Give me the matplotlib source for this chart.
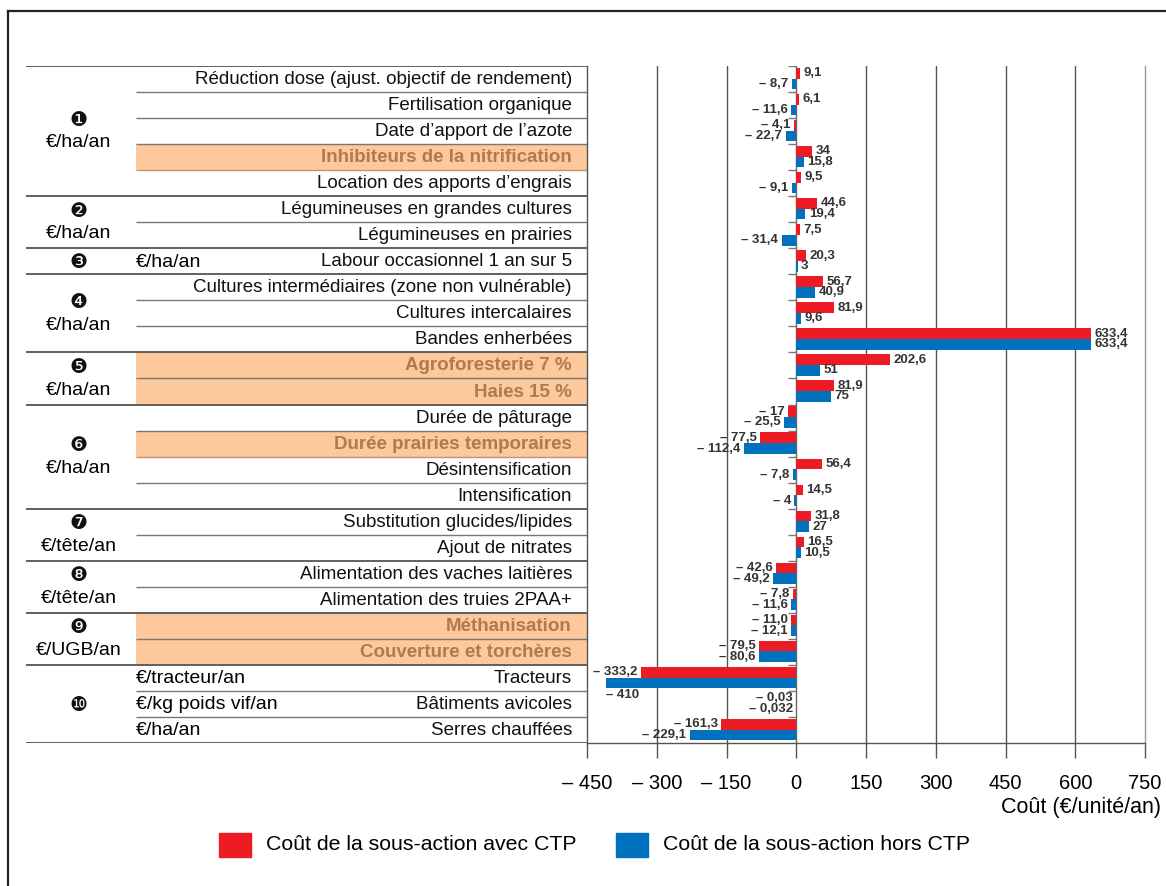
import matplotlib
matplotlib.use('Agg')
import matplotlib.pyplot as plt
import numpy as np
from matplotlib.patches import Rectangle
from matplotlib.lines import Line2D

plt.rcParams['font.family'] = ['Liberation Sans', 'DejaVu Sans']

# data
actions = [
    'Réduction dose (ajust. objectif de rendement)',
    'Fertilisation organique',
    'Date d\u2019apport de l\u2019azote',
    'Inhibiteurs de la nitrification',
    'Location des apports d\u2019engrais',
    'Légumineuses en grandes cultures',
    'Légumineuses en prairies',
    'Labour occasionnel 1 an sur 5',
    'Cultures intermédiaires (zone non vulnérable)',
    'Cultures intercalaires',
    'Bandes enherbées',
    'Agroforesterie 7 %',
    'Haies 15 %',
    'Durée de pâturage',
    'Durée prairies temporaires',
    'Désintensification',
    'Intensification',
    'Substitution glucides/lipides',
    'Ajout de nitrates',
    'Alimentation des vaches laitières',
    'Alimentation des truies 2PAA+',
    'Méthanisation',
    'Couverture et torchères',
    'Tracteurs',
    'Bâtiments avicoles',
    'Serres chauffées',
]
avec_ctp = [9.1, 6.1, -4.1, 34, 9.5, 44.6, 7.5, 20.3, 56.7, 81.9, 633.4, 202.6, 81.9,
            -17, -77.5, 56.4, 14.5, 31.8, 16.5, -42.6, -7.8, -11.0, -79.5, -333.2, -0.03, -161.3]
hors_ctp = [-8.7, -11.6, -22.7, 15.8, -9.1, 19.4, -31.4, 3, 40.9, 9.6, 633.4, 51, 75,
            -25.5, -112.4, -7.8, -4, 27, 10.5, -49.2, -11.6, -12.1, -80.6, -410, -0.032, -229.1]
highlighted = ['Inhibiteurs de la nitrification', 'Agroforesterie 7 %', 'Haies 15 %',
               'Durée prairies temporaires', 'Méthanisation', 'Couverture et torchères']

group_marks = ['\u2776', '\u2777', '\u2778', '\u2779', '\u277a', '\u277b', '\u277c', '\u277d', '\u277e', '\u277f']
group_sizes = [5, 2, 1, 3, 2, 4, 2, 2, 2, 3]
group_units = ['€/ha/an', '€/ha/an', '€/ha/an', '€/ha/an', '€/ha/an', '€/ha/an',
               '€/tête/an', '€/tête/an', '€/UGB/an', None]
tractor_units = ['€/tracteur/an', '€/kg poids vif/an', '€/ha/an']

xticks = [-450, -300, -150, 0, 150, 300, 450, 600, 750]

RED = '#ED1C24'
BLUE = '#0071BC'
HL_FILL = '#FDC89C'
HL_TEXT = '#B07A4F'
LINE = '#555555'

W, H = 1166, 886
fig = plt.figure(figsize=(W / 100, H / 100), dpi=100)

top_px, bot_px = 66, 743
b = 1 - bot_px / H
h = (bot_px - top_px) / H
split = 587
right = 1145
n = len(actions)

# ---- table part
axt = fig.add_axes([0, b, split / W, h])
axt.set_xlim(0, split)
axt.set_ylim(n, 0)
axt.axis('off')

for i, a in enumerate(actions):
    if a in highlighted:
        axt.add_patch(Rectangle((136, i), split - 136, 1, fc=HL_FILL, ec='none'))
        axt.text(572, i + 0.52, a, ha='right', va='center', fontsize=13.5,
                 fontweight='bold', color=HL_TEXT)
    else:
        axt.text(572, i + 0.52, a, ha='right', va='center', fontsize=13.5, color='#111111')

bounds = np.cumsum([0] + group_sizes)
for k in range(1, n):
    if k in bounds:
        continue
    col = '#C8916A' if actions[k - 1] in highlighted and actions[k] not in highlighted else '#777777'
    axt.plot([136, split], [k, k], color=col, lw=1.0, solid_capstyle='butt')
for k in bounds:
    axt.plot([26, split], [k, k], color=LINE, lw=1.3, solid_capstyle='butt')

for g, mark in enumerate(group_marks):
    start, size = bounds[g], group_sizes[g]
    c = start + size / 2
    if size == 1:
        axt.text(79, c + 0.05, mark, ha='center', va='center', fontsize=14.5, color='#111111')
        axt.text(136, c + 0.05, group_units[g], ha='left', va='center', fontsize=14)
    elif group_units[g] is None:
        axt.text(79, c + 0.05, mark, ha='center', va='center', fontsize=14.5, color='#111111')
        for j, u in enumerate(tractor_units):
            axt.text(136, start + j + 0.52, u, ha='left', va='center', fontsize=14)
    else:
        axt.text(79, c - 0.42, mark, ha='center', va='center', fontsize=14.5, color='#111111')
        axt.text(79, c + 0.45, group_units[g], ha='center', va='center', fontsize=14)

# ---- bar part
ax = fig.add_axes([split / W, b, (right - split) / W, h])
ax.set_xlim(-450, 750)
ax.set_ylim(n, 0)
y = np.arange(n)
ax.barh(y + 0.28, avec_ctp, height=0.41, color=RED, zorder=3)
ax.barh(y + 0.69, hors_ctp, height=0.41, color=BLUE, zorder=3)

for v in [-300, -150, 150, 300, 450, 600]:
    ax.axvline(v, color=LINE, lw=1.0, zorder=1)
ax.axvline(0, color='#666666', lw=1.0, zorder=2)
for k in range(0, n):
    ax.plot([-17, 0], [k, k], color='#777777', lw=1.0, zorder=2, solid_capstyle='butt')

ax.spines['top'].set_visible(False)
ax.spines['left'].set_color(LINE)
ax.spines['bottom'].set_color(LINE)
ax.spines['right'].set_color('#999999')
for s in ['left', 'bottom', 'right']:
    ax.spines[s].set_linewidth(1.0)
ax.set_yticks([])
ax.set_xticks(xticks)
ax.set_xticklabels([('\u2013 %d' % -t) if t < 0 else str(t) for t in xticks])
ax.tick_params(axis='x', length=11, width=1, color=LINE, pad=11, labelsize=14.5)

fig.text(1161 / W, 1 - 807 / H, 'Coût (€/unité/an)', ha='right', va='center', fontsize=15.5)


def lab(v):
    s = str(abs(v)).replace('.', ',')
    return ('\u2013 ' + s) if v < 0 else s


vfont = dict(fontweight='bold', fontsize=9.5, color='#333333')
for vals, off in [(avec_ctp, 0.28), (hors_ctp, 0.69)]:
    for i, v in enumerate(vals):
        if v == -410:
            ax.text(-338, i + 1.15, lab(v), ha='right', va='center', zorder=4, **vfont)
            continue
        dx = 2.5 if v >= 0 else -2.5
        ax.annotate(lab(v), (v, i + off), xytext=(dx, 0), textcoords='offset points',
                    ha='left' if v >= 0 else 'right', va='center', zorder=4, **vfont)

# legend
for x0, col, txt in [(219, RED, 'Coût de la sous-action avec CTP'),
                     (616, BLUE, 'Coût de la sous-action hors CTP')]:
    fig.add_artist(Rectangle((x0 / W, 1 - 857 / H), 32 / W, 24 / H, color=col,
                             transform=fig.transFigure))
    fig.text((x0 + 47) / W, 1 - 845 / H, txt, ha='left', va='center', fontsize=15.3)

# outer frame
fig.add_artist(Line2D([8 / W, 8 / W], [0, 1 - 11 / H], color='#222222', lw=1.6))
fig.add_artist(Line2D([8 / W, 1], [1 - 11 / H, 1 - 11 / H], color='#222222', lw=1.6))

fig.savefig('out.png', dpi=100)
